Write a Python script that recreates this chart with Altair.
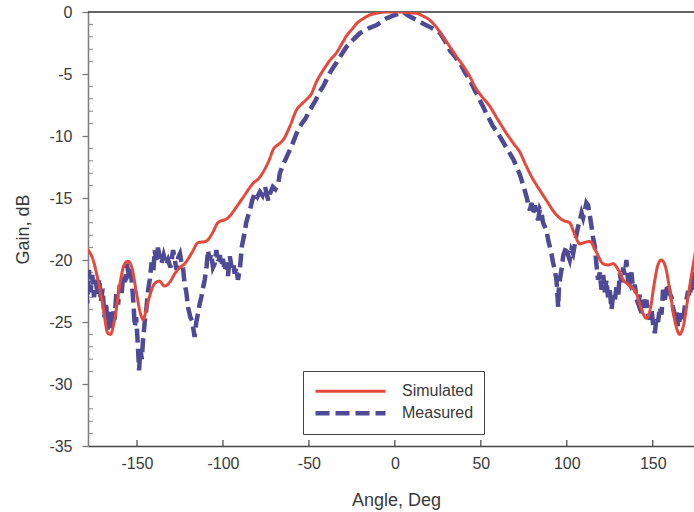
import altair as alt
import pandas as pd

# ---------------- data ----------------
series_names = ["Simulated", "Measured"]

sim_deg = [-180, -178.5, -176, -172.7, -170, -167, -165.5, -163, -160, -157.5, -155.2, -153,
           -150.5, -148, -146.5, -144, -141.5, -139.7, -137, -134, -131, -128, -125, -122.3,
           -118, -114.5, -110, -106, -103, -97, -92, -88, -82.4, -79, -76.6, -73, -70.8, -67,
           -64.9, -61, -57.2, -54, -51, -49, -45.5, -41.7, -37.8, -34, -31, -28, -25, -22, -18,
           -14.5, -10, -5, 0, 3, 7, 12.6, 16, 20.3, 24, 28, 32, 35.9, 40, 43.6, 46.5, 49.4, 55.2,
           60, 65, 69, 72.7, 76, 80.4, 84, 88.2, 93, 97.8, 101.7, 104.5, 107.6, 110, 113.4, 117,
           121.1, 124, 127, 130, 132.8, 136, 140.5, 143, 146.3, 148.5, 151, 153, 155, 157.5, 160,
           163, 165.7, 168, 170.5, 173.4, 176, 180]
sim_db = [-19.0, -19.2, -19.8, -21.6, -23.5, -25.9, -26.0, -24.8, -22.0, -20.4, -20.1, -20.6,
          -22.5, -24.3, -24.8, -23.6, -22.4, -21.9, -21.7, -22.1, -21.8, -21.1, -20.6, -20.3,
          -19.4, -18.6, -18.5, -17.8, -17.0, -16.6, -15.7, -14.9, -13.8, -13.4, -12.9, -11.9,
          -11.1, -10.6, -10.3, -9.2, -7.9, -7.4, -7.0, -6.7, -5.6, -4.7, -3.9, -3.3, -2.6, -1.9,
          -1.4, -0.9, -0.5, -0.24, -0.08, 0.0, 0.0, 0.0, -0.05, -0.1, -0.3, -0.65, -1.2, -2.0,
          -2.8, -3.6, -4.4, -5.2, -6.0, -6.6, -7.6, -8.7, -9.8, -10.6, -11.3, -12.3, -13.5, -14.3,
          -15.2, -16.2, -16.8, -17.0, -17.9, -18.7, -18.6, -18.5, -19.3, -20.3, -20.4, -20.3,
          -20.8, -21.6, -22.0, -22.7, -23.8, -24.7, -24.0, -21.8, -20.4, -20.0, -20.6, -22.5,
          -25.0, -26.0, -25.2, -23.0, -20.5, -18.5, -17.0]

meas_deg = [-180, -179, -178, -177, -176, -175, -174, -173, -172, -171, -170, -169, -168, -167,
            -166, -165, -164, -163, -162, -161, -160, -159, -158, -157, -156, -155, -154, -153,
            -152, -151.3, -150.5, -149.5, -148.8, -148, -147.2, -146.5, -145.5, -144.6, -143.5,
            -142.6, -141.5, -140.5, -139.7, -138.8, -137.8, -136.8, -135.8, -134.5, -133, -131.9,
            -130.5, -129, -128, -127, -126, -125, -124, -123.3, -122.4, -121.3, -120.3, -119,
            -118, -117.4, -116.5, -115.5, -114.5, -113.5, -112.6, -111.5, -110.6, -109.5, -108.7,
            -107.8, -106.8, -105.8, -104.8, -103.8, -102.8, -101.8, -100.9, -100, -99, -98, -97.1,
            -96, -95, -94, -93.2, -92.2, -91.3, -90.2, -89, -87.4, -86.5, -85.5, -84.3, -83,
            -81.4, -80, -78.5, -77, -75.5, -74.5, -73.6, -72.5, -71, -69.5, -67.8, -66.9, -65,
            -63, -60, -57.2, -54.2, -52, -49.4, -46, -43.6, -41.7, -37.8, -35, -33, -30, -28.1,
            -24, -20.3, -15, -10.6, -7, -4.8, -1, 2.9, 5, 8, 12.6, 16, 20.3, 23, 26.2, 29, 32, 35,
            37.8, 40.5, 43.6, 46.5, 49.4, 53.3, 57, 60, 63, 66, 69, 72.7, 74.5, 76.6, 78.5, 79.5,
            80.5, 81.5, 83.3, 84.3, 85.3, 86.2, 87.2, 88.2, 89.2, 90.1, 91.1, 92, 93, 94, 95, 95.5,
            96.9, 98, 99.8, 100.7, 101.7, 102.7, 103.7, 104.7, 105.7, 106.6, 107.6, 108.6, 109.5,
            110.5, 111.4, 112.4, 113.4, 114.4, 115.3, 116.3, 117.2, 118.2, 119.2, 120.2, 121.2,
            122.1, 123.1, 124, 125, 126, 127, 128, 128.9, 130, 130.8, 131.8, 132.8, 133.7, 134.7,
            135.6, 136.6, 137.6, 138.6, 139.6, 140.5, 141.5, 142.5, 143.4, 144.4, 145.4, 146.3,
            147.3, 148.3, 149.3, 150.2, 151.2, 152.2, 153.1, 154.1, 155.1, 156, 157, 158, 158.9,
            159.9, 160.9, 161.8, 162.8, 163.8, 164.7, 165.7, 166.7, 167.6, 168.6, 169.6, 170.6,
            171.5, 172.5, 173.5, 174.5, 176]
meas_db = [-21.0, -23.5, -20.8, -22.6, -21.2, -23.0, -21.6, -22.8, -21.5, -23.4, -22.3, -24.6,
           -23.4, -25.6, -24.2, -25.6, -24.0, -24.8, -22.6, -23.6, -22.0, -22.8, -21.2, -21.8,
           -20.3, -21.0, -20.6, -21.8, -23.6, -25.4, -24.6, -26.8, -28.9, -27.2, -28.0, -26.5,
           -25.0, -24.0, -22.4, -21.6, -20.2, -20.9, -19.2, -20.0, -19.0, -19.8, -20.3, -19.6,
           -20.4, -20.0, -20.6, -19.2, -20.0, -20.8, -19.8, -19.5, -20.3, -20.5, -21.8, -22.6,
           -23.8, -24.6, -24.9, -25.4, -26.2, -25.0, -24.3, -23.5, -23.0, -22.2, -21.6, -20.5,
           -19.2, -20.0, -19.5, -20.6, -20.3, -19.2, -20.2, -19.6, -20.5, -19.9, -20.9, -20.2,
           -21.3, -19.7, -20.6, -20.2, -21.1, -20.6, -21.6, -20.8, -18.9, -17.8, -17.0, -16.5,
           -16.0, -15.2, -14.6, -14.9, -14.5, -14.8, -14.1, -14.7, -15.2, -14.6, -14.1, -14.3,
           -13.8, -13.0, -12.3, -11.7, -10.8, -9.8, -9.0, -8.6, -7.9, -7.1, -6.4, -6.0, -4.9,
           -4.3, -3.9, -3.2, -2.8, -2.2, -1.7, -1.3, -1.05, -0.7, -0.5, -0.3, -0.1, 0.0, -0.3,
           -0.65, -0.9, -1.2, -1.4, -1.7, -2.3, -3.1, -3.6, -4.1, -4.8, -5.5, -6.3, -7.1, -8.2,
           -9.2, -9.8, -10.5, -11.2, -11.9, -13.1, -13.9, -14.9, -16.0, -15.4, -16.2, -15.6,
           -16.8, -15.9, -16.2, -17.0, -17.3, -17.6, -18.4, -18.9, -19.5, -20.2, -20.8, -21.6,
           -23.8, -22.0, -20.8, -19.6, -18.9, -19.6, -20.0, -19.2, -19.5, -18.7, -17.9, -17.3,
           -16.8, -16.2, -16.6, -16.0, -15.4, -15.6, -16.4, -17.3, -18.2, -18.9, -20.3, -21.6,
           -21.0, -22.4, -21.2, -22.6, -21.6, -23.0, -22.4, -24.0, -22.8, -23.2, -22.2, -22.8,
           -21.1, -21.8, -20.6, -21.2, -20.0, -21.6, -21.9, -21.0, -22.4, -22.0, -23.1, -23.5,
           -22.8, -24.3, -23.2, -24.0, -23.2, -24.4, -24.8, -23.9, -25.2, -25.9, -24.6, -25.0,
           -23.8, -24.4, -22.4, -23.2, -22.4, -21.9, -22.7, -23.0, -23.8, -24.5, -24.0, -25.4,
           -24.8, -24.3, -25.0, -23.8, -23.2, -22.5, -23.0, -21.9, -21.0, -22.5, -21.5]

x_ticks = [-150, -100, -50, 0, 50, 100, 150]
y_ticks = [0, -5, -10, -15, -20, -25, -30, -35]
y_minor = [v for v in range(-34, 0) if v % 5 != 0]

# ---------------- styling ----------------
RED = "#E5493B"
BLUE = "#4F4A95"
FONT = "Liberation Sans"
TXT = "#3a3a3a"
W, H = 606, 434

sim_df = pd.DataFrame({"angle": sim_deg, "gain": sim_db, "series": series_names[0]})
meas_df = pd.DataFrame({"angle": meas_deg, "gain": meas_db, "series": series_names[1]})

xscale = alt.Scale(domain=[-178.5, 174], nice=False, zero=False)
yscale = alt.Scale(domain=[-35, 0], nice=False, zero=False)

color_scale = alt.Scale(domain=series_names, range=[RED, BLUE])
dash_scale = alt.Scale(domain=series_names, range=[[1, 0], [14, 6]])
width_scale = alt.Scale(domain=series_names, range=[3, 4.5])

legend = alt.Legend(
    orient="none", legendX=215, legendY=359, title=None,
    strokeColor="#444", padding=10, fillColor="white",
    symbolType="stroke", symbolSize=4900, clipHeight=20.7, rowPadding=1,
    labelFont=FONT, labelFontSize=16, labelColor=TXT, labelOffset=14,
)

x_enc = alt.X("angle:Q", scale=xscale, axis=alt.Axis(
    values=x_ticks, tickSize=0, labelPadding=9, grid=False,
    domainColor="#444", domainWidth=1.3,
    labelFont=FONT, labelFontSize=16, labelColor=TXT,
    labelExpr="toString(datum.value)",
    title="Angle, Deg", titleFont=FONT, titleFontSize=18, titleFontWeight="normal",
    titleColor=TXT, titleX=308, titleY=54, titleBaseline="middle", titleAlign="center"))
y_enc = alt.Y("gain:Q", scale=yscale, axis=alt.Axis(
    values=y_ticks, tickSize=6, tickColor="#777", tickWidth=1.3, labelPadding=10, grid=False,
    domainColor="#808080", domainWidth=1.6,
    labelFont=FONT, labelFontSize=16, labelColor=TXT,
    labelExpr="toString(datum.value)",
    title="Gain, dB", titleFont=FONT, titleFontSize=18, titleFontWeight="normal",
    titleColor=TXT, titleX=-65, titleY=217, titleAngle=270,
    titleBaseline="middle", titleAlign="center"))

def series_layer(df, interp, show_legend):
    return alt.Chart(df).mark_line(clip=True, interpolate=interp, strokeCap="butt").encode(
        x=x_enc, y=y_enc,
        color=alt.Color("series:N", scale=color_scale, legend=legend if show_legend else None),
        strokeDash=alt.StrokeDash("series:N", scale=dash_scale, legend=legend if show_legend else None),
        strokeWidth=alt.StrokeWidth("series:N", scale=width_scale, legend=legend if show_legend else None),
    )

meas_layer = series_layer(meas_df, "linear", True)
sim_layer = series_layer(sim_df, "monotone", True)

top_df = pd.DataFrame({"gain": [0]})
top_line = alt.Chart(top_df).mark_rule(color="#333", strokeWidth=1.3).encode(
    y=alt.Y("gain:Q", scale=yscale))

xt_df = pd.DataFrame({"angle": x_ticks})
x_inner_ticks = alt.Chart(xt_df).mark_rule(color="#444", strokeWidth=1.2).encode(
    x=alt.X("angle:Q", scale=xscale), y=alt.value(H), y2=alt.value(H - 6))

ym_df = pd.DataFrame({"gain": y_minor})
y_minor_ticks = alt.Chart(ym_df).mark_rule(color="#888", strokeWidth=1).encode(
    y=alt.Y("gain:Q", scale=yscale), x=alt.value(0), x2=alt.value(5))

chart = alt.layer(top_line, x_inner_ticks, y_minor_ticks, meas_layer, sim_layer).properties(
    width=W, height=H,
    autosize=alt.AutoSizeParams(type="none"),
    padding={"left": 88, "top": 12, "right": 0, "bottom": 66},
    background="white",
).configure_view(stroke=None)

chart.save("out.html", embed_options={"renderer": "svg", "actions": False})
